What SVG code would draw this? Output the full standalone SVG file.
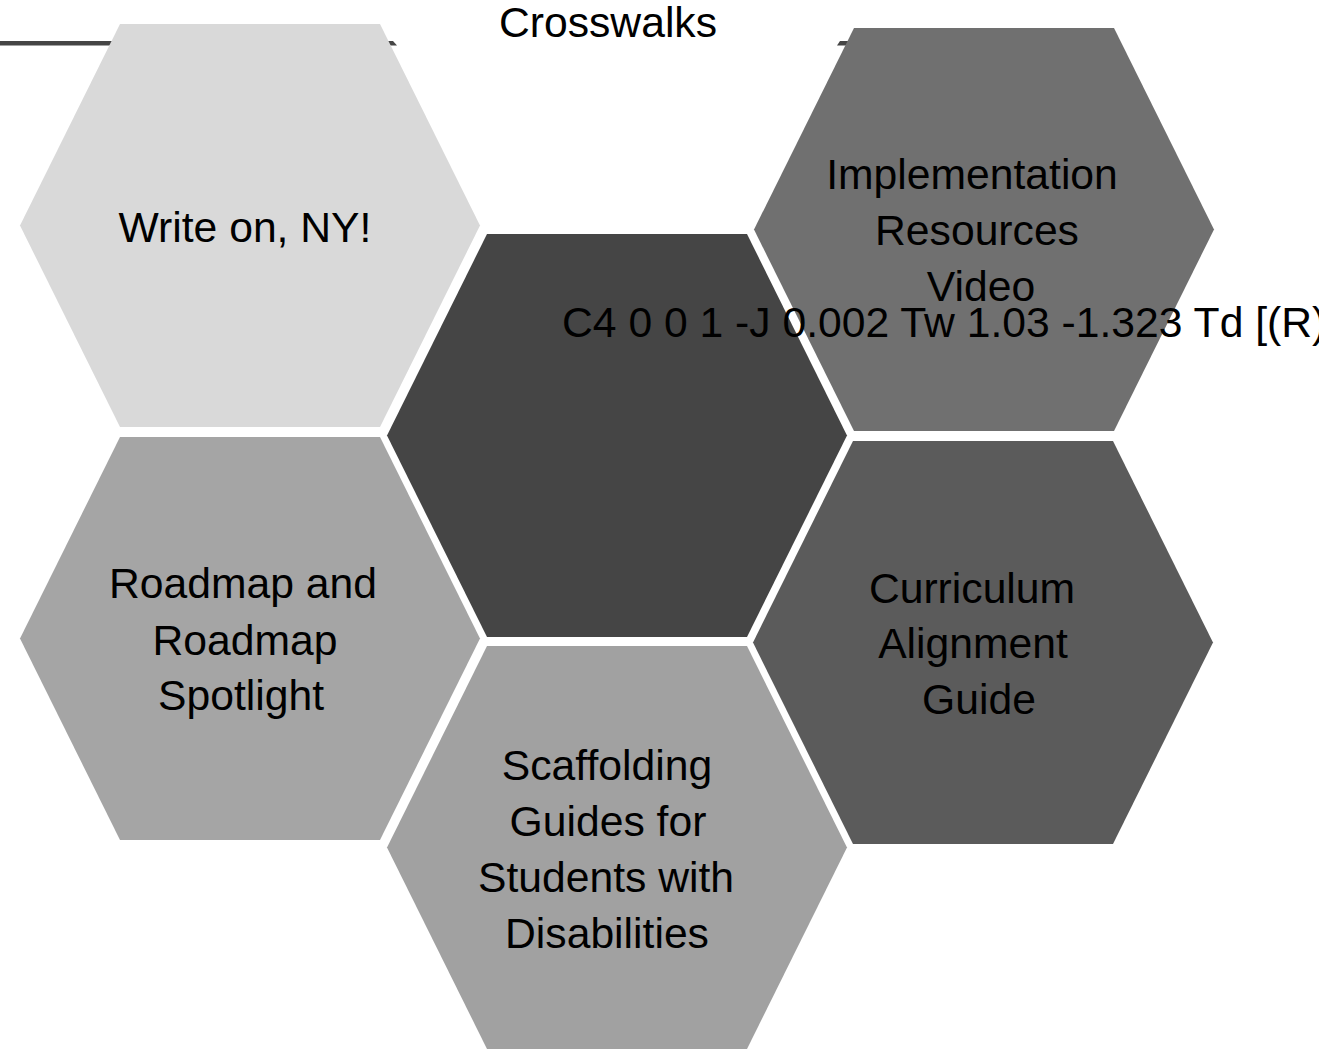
<svg xmlns="http://www.w3.org/2000/svg" width="1319" height="1053" viewBox="0 0 1319 1053">
<defs>
<style>
.t{font-family:"Liberation Sans",Arial,sans-serif;font-size:42.67px;fill:#000;text-anchor:middle}
.ts{font-family:"Liberation Sans",Arial,sans-serif;font-size:42.67px;fill:#000}
.rule{fill:#454545}
</style>
<polygon id="hex" points="100,0 360,0 460,201.5 360,403 100,403 0,201.5"/>
</defs>
<rect width="1319" height="1053" fill="#fff"/>
<g id="title-rule">
<polygon class="rule" points="0,41 393,41 397,45.5 0,45.5"/>
<polygon class="rule" points="840,41 900,41 900,45.5 837,45.5"/>
<text class="t" x="608" y="37">Crosswalks</text>
</g>
<g id="connectors"></g>
<g id="node-write-on">
<use href="#hex" x="20" y="24" fill="#d9d9d9"/>
<text class="t" x="245" y="242">Write on, NY!</text>
</g>
<g id="node-roadmap">
<use href="#hex" x="20" y="437" fill="#a5a5a5"/>
<text class="t" x="243" y="598">Roadmap and</text>
<text class="t" x="245" y="655">Roadmap</text>
<text class="t" x="241" y="710">Spotlight</text>
</g>
<g id="node-scaffolding">
<use href="#hex" x="387" y="646" fill="#a1a1a1"/>
<text class="t" x="607" y="780">Scaffolding</text>
<text class="t" x="608" y="836">Guides for</text>
<text class="t" x="606" y="892">Students with</text>
<text class="t" x="607" y="948">Disabilities</text>
</g>
<g id="node-curriculum">
<use href="#hex" x="753" y="441" fill="#5b5b5b"/>
<text class="t" x="972" y="603">Curriculum</text>
<text class="t" x="973" y="658">Alignment</text>
<text class="t" x="979" y="714">Guide</text>
</g>
<g id="node-implementation">
<use href="#hex" x="754" y="28" fill="#707070"/>
<text class="t" x="972" y="189">Implementation</text>
<text class="t" x="977" y="245">Resources</text>
<text class="t" x="981" y="301">Video</text>
</g>
<g id="node-center">
<use href="#hex" x="387" y="234" fill="#454545"/>
<text class="ts" x="562" y="337">C4 0 0 1 -J 0.002 Tw 1.03 -1.323 Td [(R)</text>
</g>
</svg>
